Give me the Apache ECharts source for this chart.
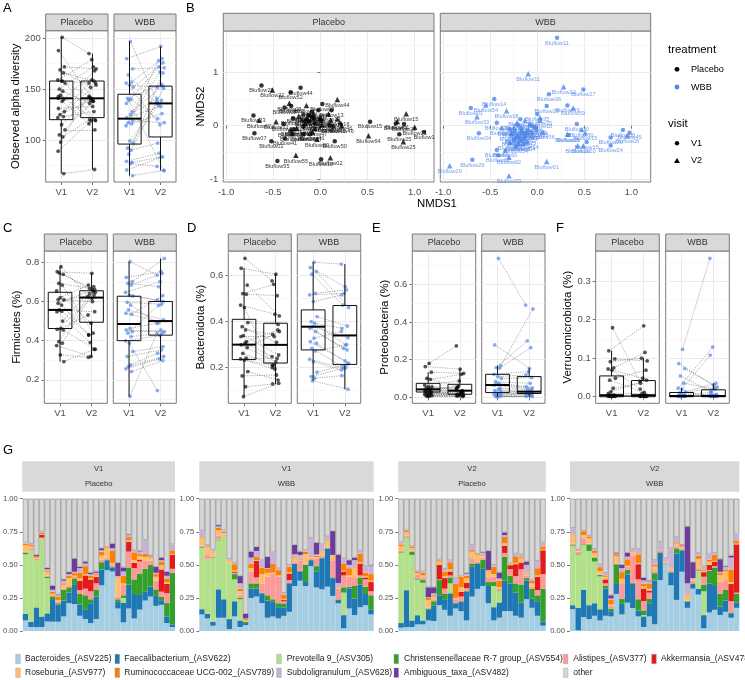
<!DOCTYPE html>
<html><head><meta charset="utf-8">
<style>html,body{margin:0;padding:0;background:#fff}#c{width:745px;height:680px}</style>
<script src="https://cdn.jsdelivr.net/npm/echarts@6/dist/echarts.min.js"></script>
</head><body><div id="c"></div>
<script>
// ---------- paired per-subject values (V1 index i pairs with V2 index i)
const alphaPlaceboV1=[201,188,172,169,166,159,158,156,150,148,144,141,140,138,131,128,125,123,122,115,110,105,103,98,89,67,158,143];
const alphaPlaceboV2=[185,140,170,152,158,179,143,120,172,136,119,141,168,116,133,154,139,128,159,142,110,138,120,156,119,71,156,138];
const alphaWbbV1=[197,180,170,164,157,156,154,152,141,140,139,136,128,125,122,119,117,116,114,99,97,92,90,86,79,78,77,70.5,65];
const alphaWbbV2=[138,192,171,134,180,115,152,176,155,121,70,172,153,141,133,117,178,126,167,136,166,139,97,151,87,83.5,74,83,70];
const firmPlaceboV1=[.778,.752,.739,.693,.684,.654,.62,.608,.591,.582,.557,.548,.5,.463,.458,.455,.395,.387,.375,.327,.293,.61,.55,.745];
const firmPlaceboV2=[.625,.744,.647,.667,.438,.489,.684,.633,.659,.429,.548,.39,.676,.531,.616,.356,.64,.65,.319,.315,.356,.6,.43,.66];
const firmWbbV1=[.803,.723,.701,.693,.684,.647,.633,.628,.596,.582,.557,.54,.535,.463,.455,.446,.438,.421,.399,.387,.344,.319,.276,.268,.256,.242,.115];
const firmWbbV2=[.735,.752,.82,.676,.744,.701,.608,.6,.586,.489,.506,.497,.63,.49,.455,.446,.58,.438,.426,.145,.37,.353,.336,.319,.307,.298,.44];
const bactPlaceboV1=[.675,.632,.559,.522,.519,.472,.461,.396,.378,.364,.339,.335,.313,.306,.299,.287,.262,.241,.238,.233,.183,.164,.117,.074];
const bactPlaceboV2=[.577,.606,.425,.562,.513,.432,.2,.388,.31,.345,.255,.335,.364,.248,.226,.357,.212,.24,.194,.21,.146,.168,.129,.132];
const bactWbbV1=[.658,.635,.617,.606,.523,.516,.487,.422,.4,.393,.378,.371,.357,.328,.313,.306,.284,.272,.236,.226,.18,.161,.154,.143];
const bactWbbV2=[.65,.552,.461,.472,.538,.523,.516,.381,.299,.371,.33,.284,.277,.357,.229,.219,.204,.3,.197,.19,.215,.2,.165,.106];
const protPlaceboV1=[.18,.163,.133,.1,.095,.065,.057,.055,.05,.045,.04,.035,.032,.03,.028,.025,.022,.02,.015,.012,.01,.008,.006,.005];
const protPlaceboV2=[.273,.15,.127,.057,.122,.087,.048,.035,.03,.05,.025,.06,.02,.04,.018,.012,.016,.03,.009,.014,.008,.02,.006,.004];
const protWbbV1=[.738,.278,.168,.158,.155,.122,.11,.1,.083,.074,.07,.065,.048,.042,.035,.03,.025,.02,.015,.012,.008,.006,.004,.003];
const protWbbV2=[.49,.154,.469,.3,.264,.136,.119,.105,.074,.057,.05,.045,.04,.03,.028,.025,.022,.02,.018,.015,.012,.008,.005,.004];
const verrPlaceboV1=[.179,.119,.098,.091,.075,.072,.069,.048,.043,.022,.013,.009,.004,.003,.003,.002,.002,.002,.001,.001,.001,.001,.001,.001];
const verrPlaceboV2=[.04,.184,.093,.1,.115,.048,.02,.069,.011,.035,.043,.009,.004,.003,.003,.003,.002,.002,.002,.001,.001,.001,.001,.001];
const verrWbbV1=[.123,.086,.073,.054,.035,.022,.02,.013,.01,.006,.004,.003,.003,.002,.002,.002,.001,.001,.001,.001,.001,.001,.001,.001];
const verrWbbV2=[.359,.03,.025,.013,.02,.129,.108,.035,.022,.011,.006,.005,.004,.003,.003,.002,.002,.002,.002,.001,.001,.001,.001,.001];
const visitJitter=[.03,-.09,.1,-.04,.07,-.11,.01,.12,-.06,.05,-.02,-.1,.08];
// ---------- box statistics [lower whisker,q1,median,q3,upper whisker]
const alphaBoxes={pV1:[67,120,141,158,201],pV2:[71,122,141,158,185],wV1:[65,96,121,145,197],wV2:[70,103,136,153,192]};
const firmBoxes={pV1:[.293,.462,.557,.647,.778],pV2:[.315,.494,.62,.655,.744],wV1:[.115,.4,.485,.627,.803],wV2:[.298,.428,.5,.6,.82]};
const bactBoxes={pV1:[.074,.235,.3,.41,.632],pV2:[.129,.22,.299,.393,.606],wV1:[.143,.277,.378,.451,.658],wV2:[.106,.214,.34,.47,.65]};
const protBoxes={pV1:[.005,.028,.042,.074,.133],pV2:[.004,.016,.035,.069,.15],wV1:[.003,.025,.065,.122,.168],wV2:[.004,.02,.03,.11,.154]};
const verrBoxes={pV1:[0,0,.004,.054,.119],pV2:[0,0,.004,.042,.1],wV1:[0,0,.002,.011,.022],wV2:[0,0,.002,.018,.035]};
// ---------- NMDS ordination [NMDS1,NMDS2,sample]
const nmdsPlaceboV1=[[-.625,.756,'Bluflow22'],[-.21,.71,'Bluflow44'],[-.315,.625,'Bluflow52'],[.02,.405,'Bluflow03'],[-.71,.19,'Bluflow33'],[-.70,-.144,'Bluflow07'],[-.52,-.29,'Bluflow02'],[-.456,-.66,'Bluflow55'],[.007,-.63,'Bluflow10'],[.152,-.29,'Bluflow50'],[.527,.075,'Bluflow15'],[.80,.04,'Bluflow61'],[.887,.03,'Bluflow21'],[.837,-.16,'Bluflow25'],[1.10,-.12,'Bluflow1'],[-.38,.34,'Bluflow08'],[-.31,.37,'Bluflow09'],[-.29,.14,'Bluflow12'],[-.18,.21,'Bluflow16'],[-.13,.2,'Bluflow17'],[-.085,.17,'Bluflow19'],[.007,.09,'Bluflow23'],[-.29,-.07,'Bluflow24'],[-.18,-.16,'Bluflow26'],[-.375,-.24,'Bluflow41'],[-.13,.075,'Bluflow31'],[-.07,.14,'Bluflow37'],[.117,.29,'Bluflow13'],[.21,.04,'Bluflow46'],[-.057,.04,'Bluflow38'],[-.39,.03,'Bluflow39'],[-.18,-.02,'Bluflow40'],[-.02,.29,'Bluflow42'],[-.09,.26,'Bluflow43'],[.1,.01,'Bluflow47'],[-.3,-.16,'Bluflow49']];
const nmdsPlaceboV2=[[-.51,.67,'Bluflow22'],[-.33,.42,'Bluflow08'],[-.148,.38,'Bluflow17'],[.18,.49,'Bluflow44'],[-.65,.10,'Bluflow07'],[-.47,.075,'Bluflow33'],[-.26,-.556,'Bluflow55'],[.106,-.6,'Bluflow02'],[-.035,-.256,'Bluflow50'],[.51,-.19,'Bluflow64'],[.816,.08,'Bluflow61'],[.91,.225,'Bluflow15'],[1.0,-.03,'Bluflow21'],[.88,-.30,'Bluflow25'],[-.23,.18,'Bluflow09'],[.085,.22,'Bluflow13'],[.18,.125,'Bluflow16'],[.11,.106,'Bluflow19'],[-.11,-.144,'Bluflow37'],[-.085,-.125,'Bluflow41'],[.226,0,'Bluflow46'],[-.25,-.05,'Bluflow24'],[-.16,.044,'Bluflow31'],[0,.156,'Bluflow38'],[-.074,.23,'Bluflow39'],[.138,-.006,'Bluflow48'],[.014,.012,'Bluflow42'],[-.145,.14,'Bluflow43'],[-.057,-.05,'Bluflow47'],[-.11,.2,'Bluflow49'],[-.32,-.08,'Bluflow12']];
const nmdsWbbV1=[[.21,1.65,'Bluflow11'],[.49,.68,'Bluflow27'],[.124,.59,'Bluflow36'],[-.457,.5,'Bluflow14'],[-.706,.33,'Bluflow01'],[.1,.37,'Bluflow28'],[.32,.38,'Bluflow59'],[0,.22,'Bluflow35'],[-.18,.12,'Bluflow56'],[-.43,.056,'Bluflow32'],[-.62,-.14,'Bluflow34'],[.42,.03,'Bluflow30'],[.91,-.08,'Bluflow08'],[.98,-.13,'Bluflow45'],[.78,-.22,'Bluflow20'],[.78,-.37,'Bluflow24'],[-.69,-.64,'Bluflow29'],[-.43,-.456,'Bluflow60'],[-.415,-.556,'Bluflow62'],[.525,-.306,'Bluflow15'],[.33,-.175,'Bluflow26'],[-.24,-.11,'Bluflow03'],[-.21,-.2,'Bluflow04'],[-.167,-.05,'Bluflow05'],[-.113,-.144,'Bluflow10'],[-.078,.012,'Bluflow18'],[-.043,-.02,'Bluflow19'],[-.007,-.08,'Bluflow36'],[-.184,-.27,'Bluflow40'],[-.227,-.39,'Bluflow54'],[-.29,-.06,'Bluflow16'],[-.13,-.2,'Bluflow17'],[-.25,-.26,'Bluflow23'],[-.2,.01,'Bluflow25'],[-.1,-.09,'Bluflow31'],[-.16,-.14,'Bluflow39']];
const nmdsWbbV2=[[-.096,.975,'Bluflow11'],[.28,.73,'Bluflow32'],[-.546,.39,'Bluflow54'],[-.326,.28,'Bluflow28'],[-.64,.17,'Bluflow33'],[.38,.33,'Bluflow59'],[.03,.156,'Bluflow35'],[-.13,.1,'Bluflow56'],[-.216,.056,'Bluflow37'],[-.376,-.04,'Bluflow38'],[.47,-.07,'Bluflow30'],[.51,-.13,'Bluflow15'],[.32,-.16,'Bluflow26'],[.957,-.19,'Bluflow06'],[.43,-.375,'Bluflow20'],[.49,-.375,'Bluflow20'],[.1,-.67,'Bluflow01'],[-.93,-.75,'Bluflow29'],[-.3,-.94,'Bluflow09'],[-.3,-.59,'Bluflow62'],[-.34,-.456,'Bluflow60'],[-.29,-.31,'Bluflow42'],[-.113,-.3,'Bluflow54'],[-.273,-.144,'Bluflow03'],[-.15,-.33,'Bluflow04'],[-.2,-.33,'Bluflow05'],[-.06,-.11,'Bluflow10'],[.057,-.12,'Bluflow36'],[.03,.1,'Bluflow18'],[-.22,-.2,'Bluflow40'],[-.17,-.09,'Bluflow16'],[-.25,-.04,'Bluflow17'],[-.14,-.23,'Bluflow25'],[-.02,-.03,'Bluflow39']];
// ---------- stacked composition: each row is one sample, columns follow taxa
const taxa=['Bacteroides_(ASV225)','Faecalibacterium_(ASV622)','Prevotella 9_(ASV305)','Christensenellaceae R-7 group_(ASV554)','Alistipes_(ASV377)','Akkermansia_(ASV478)','Roseburia_(ASV977)','Ruminococcaceae UCG-002_(ASV789)','Subdoligranulum_(ASV628)','Ambiguous_taxa_(ASV482)','other'];
const taxaColors=['#A6CEE3','#1F78B4','#B2DF8A','#33A02C','#FB9A99','#E31A1C','#FDBF6F','#FF7F00','#CAB2D6','#6A3D9A','#D6D6D6'];
const compV1Placebo=[[8,5,45,1,1,0,5,1,1,0,33],[3,4,54,0,1,0,2,1,1,0,34],[3,15,36,0,1,0,1,1,0,1,43],[3,8,59,0,1,2,.5,1,1,0,25],[7.5,6.5,28,1,1,0,3,1,1,1,55],[7,17,0,2,1,0,1,1.5,1.5,3,65.5],[7,13,0,1,1,0,1.5,2.5,1,.5,72.5],[11,12,0,8,1,0,3,1,2,1,61],[21,8,0,4,1,0,6,2,1,1.5,55.5],[20.5,14.5,0,5,1,0,1,2,1,10,45.5],[11.5,8.5,0,8,3,7,2,4,3.5,1,51.5],[9,7,0,11,5,10,1,6,2,1.5,47.5],[6,15,0,3,6,9,1,2,1,1,56],[9,17,0,5,5,5,1,1,1,1,55],[34.5,12,0,5.5,2,0,3,3,1,1.5,37.5],[46,7.5,0,.5,1.5,0,7.5,.5,0,0,36.5],[45,3,0,.5,1.5,0,1.5,9,2,3.5,34],[17,5,0,2,2,0,14,.5,1,10,48.5],[6.5,15,3.5,2,7,0,2,6,3,3,52],[17,18,0,13,12,7.5,1,2.5,1.5,.5,27],[9.5,18.5,0,11,8.5,4,2,6,1.5,0,39],[16,11,0,16,9,1.5,2.5,1.5,2,.5,39],[23,7,0,17,6,0,3,2.5,10.5,0,31],[26,7.5,0,16.5,3,0,2.5,.5,.5,.5,43],[19,7.5,0,5,6.5,0,3,2,1,4.5,51.5],[20,3.5,0,2.5,4,17,3,3,1,2,45],[6,5,0,10,7.5,7,1,3,2,3,55],[3,2,0,39,3,10.5,.5,3,4.5,0,34.5]];
const compV1Wbb=[[12.5,4,46.5,.5,1,0,6,.5,5,0,24],[9.5,3.5,41,0,3.5,0,6,.5,1,0,35],[4,3,48.5,.5,.5,0,3,.5,1.5,0,38.5],[10,21.5,37,.5,3,0,4,2,1,1,20],[10,14,48,0,1,0,1,1,1,0,24],[1.5,7.5,42,0,.5,0,2,.5,.5,0,45.5],[11,11.5,16.5,4,1,1,1,4.5,1,0,48.5],[3,5,16,1,2,0,3,2,4,5.5,58.5],[4.5,1.5,0,1,0,0,1,1,.5,3.5,87],[25,7,0,4,9,0,2.5,3.5,4.5,4.5,40],[26,6,0,4,4.5,12.5,.5,2.5,4.5,3,36.5],[21,7.5,0,.5,7,0,7,5,5.5,0,46.5],[10,13,0,4,14,0,3,3,.5,8.5,44],[11,11,0,2,19.5,0,.5,7,8.5,0,40.5],[9.5,8.5,0,3,20,0,1,4,1.5,0,52.5],[11.5,6.5,0,3,1.5,1,1,3,1.5,0,71.5],[14.5,21.5,0,.5,2,5,1,4,1.5,0,50],[34,17,0,0,1,0,3.5,.5,2,7,35],[38,7,0,.5,8,0,.5,.5,3,2.5,40],[34,3,0,13,1,0,7,2,1,0,39],[49,4.5,0,.5,1.5,0,.5,.5,14,0,29.5],[33.5,12.5,0,4,6,0,1,1,1,9,34],[31.5,23.5,0,.5,1.5,0,3.5,.5,4.5,0,34.5],[33.5,29,0,0,.5,0,5,.5,3,0,28.5],[26.5,13.5,0,.5,13,0,3,.5,.5,18,24.5],[21,2.5,0,.5,8,0,.5,.5,3.5,21.5,42.5],[2,10,17,4,9,3,.5,5.5,4,0,45],[17,15,0,1.5,7.5,0,1,5.5,2.5,3.5,46.5],[12,12.5,0,9.5,6,0,8,.5,5,2,44.5],[18,17,0,5.5,1.5,9,1,6.5,2,0,39.5],[19.5,8.5,0,5.5,5.5,1.5,1,2.5,5,0,51],[12.5,3.5,0,11,3,7,1,5,6,.5,50.5]];
const compV2Placebo=[[2.5,3.5,53,.5,1.5,0,3,1.5,1.5,0,33],[3,28,39.5,.5,1.5,0,2.5,1,.5,0,24],[3,5,49.5,2.5,1,0,1.5,1,.5,0,36],[5,7,27,.5,3.5,0,1,1,.5,0,55],[5,3,28.5,2,1.5,0,2,2,1,0,55],[8,8,0,1,.5,0,6,1.5,.5,7.5,67],[7.5,11.5,0,3.5,1.5,0,2,1,1.5,4.5,67],[19.5,7.5,0,11.5,.5,11,2.5,1,.5,0,46],[16,7.5,0,4.5,4,8,1.5,3.5,2,0,53],[11.5,17,7.5,4.5,1.5,3,1.5,5.5,1.5,0,46.5],[17,4,0,0,3,0,1,10.5,4.5,0,60],[15,7,0,.5,3.5,3.5,3.5,8,.5,0,58.5],[8,22,0,.5,2,4,3.5,2,1.5,.5,56.5],[26,22.5,0,2.5,4,0,5,1.5,3.5,0,35],[32,19,0,.5,1,0,5.5,.5,0,0,42],[34,13,0,7,1.5,0,1.5,.5,1.5,.5,40.5],[21,13,0,3,3,0,5,.5,.5,14.5,39.5],[8,10,16,3,4,0,2,5.5,1.5,0,50],[10,11.5,8.5,.5,1.5,0,1,5,1.5,4.5,55.5],[15,23,0,18,3,5.5,2,4.5,1.5,2,25.5],[15,21,0,6,5,3,.5,.5,.5,0,49],[11.5,17.5,0,7,5.5,9,1,5,2,0,41.5],[10,11.5,0,13.5,11.5,5,3,1,2,0,42],[24,14,0,2,2,0,1.5,.5,6,2.5,47.5],[17.5,7,0,7.5,1.5,0,2.5,2,.5,0,61.5],[11.5,11,0,4.5,4,10,1,5.5,5.5,0,47],[4,3,0,25,11,18,.5,2.5,3,0,33]];
const compV2Wbb=[[16.5,3,45,.5,1,0,6.5,.5,5,0,22],[.5,17,40,.5,2,0,.5,.5,.5,0,38.5],[10.5,20.5,34,.5,4.5,0,2.5,3,.5,0,24],[9,10.5,41,5,.5,0,4,1.5,.5,0,28],[11.5,9.5,31.5,3,.5,0,3,1.5,1.5,0,38],[8,8.5,25,1,.5,0,2.5,3,2,0,50],[11.5,20.5,0,2,2,3,2,1,2,0,56],[11,4,0,2,2,0,1,3.5,1,2.5,73],[28,7.5,0,15,.5,0,5.5,1.5,.5,.5,41],[12.5,8,0,4,11,0,4,5,3,2.5,50],[21.5,21.5,0,3.5,2.5,0,.5,5,2,3,41],[17.5,18.5,0,.5,21,0,2.5,.5,2,0,38],[11,4.5,0,8.5,15,11.5,1,6.5,4,0,38],[3,8,1,3.5,7,9.5,1.5,2,2.5,2,59.5],[11,10,0,3.5,4.5,1.5,1.5,4,1.5,.5,62],[5,33,0,5.5,1.5,0,3.5,1.5,3.5,0,46],[38.5,20.5,0,.5,1,0,.5,.5,6,0,32.5],[50.5,0,0,.5,.5,0,.5,.5,2.5,0,45],[34.5,9.5,0,.5,1.5,0,1.5,.5,14.5,0,37.5],[23.5,35,0,4,1.5,0,2,1,4,0,29],[45,16,0,.5,1,0,1.5,.5,.5,.5,35],[17.5,4.5,0,.5,.5,0,4.5,.5,8,43,21],[32,3.5,0,.5,2,0,.5,.5,1,12,48],[27.5,4.5,13.5,.5,1.5,0,7,2.5,2,0,41],[2,10,18,5,6,3.5,1,1,2.5,0,51],[14,22,0,9.5,.5,4,2.5,1.5,4,0,42],[16,18,0,14,1,3.5,.5,4.5,1.5,0,41],[12,6.5,0,9.5,9,0,5,1.5,1,9.5,45.5],[14.5,8.5,0,8,7.5,0,6.5,1.5,2,.5,51],[10,3,0,1,8.5,13,1.5,9.5,9,1.5,43],[17.5,4,0,6.5,1,36.5,.5,2,5,0,27]];

// ---------- layout and styling
const FONT='"Liberation Sans",Arial,sans-serif';
const TICK='#4d4d4d',GRID='#ebebeb',GRIDMINOR='#f2f2f2',BORDER='#7a7a7a',STRIP='#d9d9d9',BLUE='#4f86ea';
const grids=[],xAxes=[],yAxes=[],series=[],gfx=[];
function txt(x,y,text,size,o={}){gfx.push({type:'text',x,y,rotation:o.rot||0,z:20,silent:true,style:{text,x:0,y:0,fill:o.color||'#1a1a1a',font:`${size}px ${FONT}`,textAlign:o.align||'left',textVerticalAlign:'middle'}});}
function strip(x,y,w,h,lines,size,stroke){
  gfx.push({type:'rect',z:10,silent:true,shape:{x,y,width:w,height:h},style:{fill:STRIP,stroke:stroke?BORDER:null,lineWidth:1}});
  lines.forEach((t,i)=>txt(x+w/2,y+h*(i+.5)/lines.length,t,size,{align:'center',color:'#333'}));
}
function addGrid(box,xMin,xMax,yMin,yMax,o){
  const gi=grids.length;
  grids.push({left:box.x,top:box.y,width:box.w,height:box.h,show:true,backgroundColor:'#fff',borderColor:BORDER,borderWidth:1,containLabel:false});
  const label={color:TICK,fontSize:o.tickSize||9.5,fontFamily:FONT,margin:5,hideOverlap:false};
  const tick={show:true,length:3,lineStyle:{color:'#555',width:.8}};
  const mk=(min,max,vals,fmt)=>({type:'value',gridIndex:gi,min,max,
    axisLine:{show:false},
    axisTick:Object.assign({},tick,{customValues:vals}),
    axisLabel:Object.assign({},label,{customValues:vals,formatter:fmt,showMinLabel:true,showMaxLabel:true}),
    splitLine:{show:true,lineStyle:{color:GRID,width:1}},minorSplitLine:{show:false}});
  const xi=xAxes.length;
  xAxes.push(mk(xMin,xMax,o.xTicks,o.xFmt));
  const yi=yAxes.length;
  const yA=mk(yMin,yMax,o.yTicks,o.yFmt);
  if(o.yName)Object.assign(yA,{name:o.yName,nameLocation:'middle',nameGap:o.yGap,nameTextStyle:{fontSize:11.4,color:'#000',fontFamily:FONT}});
  yAxes.push(yA);
  const minorAxis=(min,max,vals)=>({type:'value',gridIndex:gi,min,max,axisLine:{show:false},
    axisTick:{show:false,customValues:vals},axisLabel:{show:false,customValues:vals},
    splitLine:{show:true,lineStyle:{color:GRIDMINOR,width:.6}}});
  if(o.xMinor)xAxes.push(minorAxis(xMin,xMax,o.xMinor));
  if(o.yMinor)yAxes.push(minorAxis(yMin,yMax,o.yMinor));
  return {xi,yi};
}
function renderBox(params,api){
  const x=api.value(0),lo=api.value(1),q1=api.value(2),m=api.value(3),q3=api.value(4),hi=api.value(5);
  const w=api.size([.75,0])[0]/2,c=api.coord([x,m]);
  const pLo=api.coord([x,lo])[1],pQ1=api.coord([x,q1])[1],pQ3=api.coord([x,q3])[1],pHi=api.coord([x,hi])[1];
  const s={stroke:'#111',lineWidth:1,fill:null};
  return {type:'group',children:[
    {type:'line',shape:{x1:c[0],y1:pHi,x2:c[0],y2:pQ3},style:s},
    {type:'line',shape:{x1:c[0],y1:pQ1,x2:c[0],y2:pLo},style:s},
    {type:'rect',shape:{x:c[0]-w,y:pQ3,width:2*w,height:pQ1-pQ3},style:s},
    {type:'line',shape:{x1:c[0]-w,y1:c[1],x2:c[0]+w,y2:c[1]},style:{stroke:'#000',lineWidth:2}}
  ]};
}
function addBoxFacet(box,yRange,yTicks,yMinor,fmt,color,v1,v2,bV1,bV2,yName,yGap){
  const a=addGrid(box,.5,2.5,yRange[0],yRange[1],{xTicks:[1,2],xFmt:v=>'V'+v,yTicks,yFmt:fmt,yMinor,yName,yGap});
  if(!yName){yAxes[a.yi].axisTick.show=false;yAxes[a.yi].axisLabel.show=false;}
  const ax={xAxisIndex:a.xi,yAxisIndex:a.yi,silent:true,animation:false};
  const jit=i=>visitJitter[i%visitJitter.length],jit2=i=>visitJitter[(i+5)%visitJitter.length];
  series.push(Object.assign({type:'lines',coordinateSystem:'cartesian2d',z:3,
    data:v1.map((v,i)=>({coords:[[1+jit(i),v],[2+jit2(i),v2[i]]]})),
    lineStyle:{color:'#444',width:.6,type:[1.2,1.2],opacity:.75},effect:{show:false}},ax));
  series.push(Object.assign({type:'scatter',z:4,symbolSize:3.8,itemStyle:{color,opacity:.65},
    data:v1.map((v,i)=>[1+jit(i),v]).concat(v2.map((v,i)=>[2+jit2(i),v]))},ax));
  series.push(Object.assign({type:'custom',z:5,renderItem:renderBox,clip:false,encode:{x:0,y:[1,2,3,4,5]},
    data:[[1].concat(bV1),[2].concat(bV2)]},ax));
}
function boxPanel(x1,w1,x2,w2,top,bot,stripTop,range,ticks,minor,fmt,name,gap,d,b){
  const h=bot-top;
  strip(x1,stripTop,w1,top-stripTop,['Placebo'],9,true);
  strip(x2,stripTop,w2,top-stripTop,['WBB'],9,true);
  addBoxFacet({x:x1,y:top,w:w1,h},range,ticks,minor,fmt,'#000',d[0],d[1],b.pV1,b.pV2,name,gap);
  addBoxFacet({x:x2,y:top,w:w2,h},range,ticks,minor,fmt,BLUE,d[2],d[3],b.wV1,b.wV2);
}
const f0=v=>String(v),f1=v=>v.toFixed(1);
boxPanel(45.7,62.3,114,62,30.7,182,14,[58.7,207.5],[100,150,200],[75,125,175],f0,'Observed alpha diversity',20,[alphaPlaceboV1,alphaPlaceboV2,alphaWbbV1,alphaWbbV2],alphaBoxes);
boxPanel(44.3,63,113.3,63,251,403.3,234,[.08,.858],[.2,.4,.6,.8],[.1,.3,.5,.7],f1,'Firmicutes (%)',20,[firmPlaceboV1,firmPlaceboV2,firmWbbV1,firmWbbV2],firmBoxes);
boxPanel(228.3,63,297.3,63.4,251,403.3,234,[.045,.707],[.2,.4,.6],[.1,.3,.5,.7],f1,'Bacteroidota (%)',18,[bactPlaceboV1,bactPlaceboV2,bactWbbV1,bactWbbV2],bactBoxes);
boxPanel(412.3,63.4,481.7,63.3,251,403.3,234,[-.032,.777],[0,.2,.4,.6],[.1,.3,.5,.7],f1,'Proteobacteria (%)',18,[protPlaceboV1,protPlaceboV2,protWbbV1,protWbbV2],protBoxes);
boxPanel(595.7,63.6,665.7,63.6,251,403.3,234,[-.017,.378],[0,.1,.2,.3],[.05,.15,.25,.35],f1,'Verrucomicrobiota (%)',18,[verrPlaceboV1,verrPlaceboV2,verrWbbV1,verrWbbV2],verrBoxes);

// NMDS panel
function nmdsFacet(box,color,v1,v2,first){
  const xT=[-1,-.5,0,.5,1];
  const a=addGrid(box,-1.03,1.205,-1.056,1.776,{xTicks:xT,xFmt:f1,yTicks:[-1,0,1],yFmt:f0,xMinor:[-.75,-.25,.25,.75],yMinor:[-.5,.5,1.5],yName:first?'NMDS2':null,yGap:12});
  if(!first){yAxes[a.yi].axisTick.show=false;yAxes[a.yi].axisLabel.show=false;}
  const ax={xAxisIndex:a.xi,yAxisIndex:a.yi,silent:true,animation:false,z:4};
  const lab={show:true,position:'bottom',distance:0,fontSize:5.6,color,fontFamily:FONT,formatter:p=>p.value[2]};
  series.push(Object.assign({type:'scatter',symbol:'circle',symbolSize:4.5,itemStyle:{color},label:lab,data:v1},ax));
  series.push(Object.assign({type:'scatter',symbol:'triangle',symbolSize:5.5,itemStyle:{color},label:lab,data:v2},ax));
}
strip(223.3,13.3,210.7,17.7,['Placebo'],9,true);
strip(440.3,13.3,210.4,17.7,['WBB'],9,true);
nmdsFacet({x:223.3,y:31,w:210.7,h:151},'#000',nmdsPlaceboV1,nmdsPlaceboV2,true);
nmdsFacet({x:440.3,y:31,w:210.4,h:151},BLUE,nmdsWbbV1,nmdsWbbV2,false);
txt(437,204,'NMDS1',11.4,{align:'center',color:'#000'});

// B legend
txt(668,50,'treatment',11.4,{color:'#000'});
txt(691,69.3,'Placebo',9.1,{color:'#000'});
txt(691,87,'WBB',9.1,{color:'#000'});
txt(668,124,'visit',11.4,{color:'#000'});
txt(691,143.3,'V1',9.1,{color:'#000'});
txt(691,160.7,'V2',9.1,{color:'#000'});
gfx.push({type:'circle',z:20,silent:true,shape:{cx:677,cy:69.3,r:2.4},style:{fill:'#000'}});
gfx.push({type:'circle',z:20,silent:true,shape:{cx:677,cy:87,r:2.4},style:{fill:BLUE}});
gfx.push({type:'circle',z:20,silent:true,shape:{cx:677,cy:143.3,r:2.2},style:{fill:'#000'}});
gfx.push({type:'polygon',z:20,silent:true,shape:{points:[[677,158],[680,163],[674,163]]},style:{fill:'#000'}});

// panel letters
[['A',3,8],['B',186,8],['C',3,228],['D',187,228],['E',372,228],['F',556,228],['G',3,450]].forEach(l=>txt(l[1],l[2],l[0],13,{color:'#000'}));

// G stacked composition
function composition(box,rows,lines){
  strip(box.x,461.3,box.w,30.4,lines,7.6,false);
  const gi=grids.length;
  grids.push({left:box.x,top:498.7,width:box.w,height:132.3});
  xAxes.push({type:'category',gridIndex:gi,data:rows.map((r,i)=>'s'+(i+1)),axisLine:{show:false},axisTick:{show:false},axisLabel:{show:false},splitLine:{show:false}});
  const yi=yAxes.length;
  yAxes.push({type:'value',gridIndex:gi,min:0,max:1,axisLine:{show:false},splitLine:{show:false},
    axisTick:{show:true,length:3,lineStyle:{color:'#555',width:.8},customValues:[0,.25,.5,.75,1]},
    axisLabel:{customValues:[0,.25,.5,.75,1],formatter:v=>v.toFixed(2),fontSize:7.6,color:TICK,fontFamily:FONT,margin:5}});
  taxa.forEach((t,k)=>series.push({type:'bar',name:t,stack:'g'+gi,xAxisIndex:xAxes.length-1,yAxisIndex:yi,silent:true,animation:false,
    barWidth:'100%',barCategoryGap:0,itemStyle:k===10?{color:taxaColors[k],borderColor:'#8c8c8c',borderWidth:.6}:{color:taxaColors[k],borderWidth:0},
    data:rows.map(r=>{const s=r.reduce((a,b)=>a+b,0);return r[k]/s;})}));
}
composition({x:22.3,w:152.7},compV1Placebo,['V1','Placebo']);
composition({x:199.3,w:174.4},compV1Wbb,['V1','WBB']);
composition({x:398.3,w:147.4},compV2Placebo,['V2','Placebo']);
composition({x:570,w:169.3},compV2Wbb,['V2','WBB']);

// G legend
[[15.7,25,659,0],[115,124.3,659,1],[276.7,286.7,659,2],[394,404,659,3],[563.3,573.3,659,4],[651.7,661,659,5],
 [15.7,25,672.7,6],[115,124.3,672.7,7],[276.7,286.7,672.7,8],[394,404,672.7,9],[563.3,573.3,672.7,10]].forEach(e=>{
  gfx.push({type:'rect',z:20,silent:true,shape:{x:e[0],y:e[2]-4.7,width:4.6,height:9.4},style:{fill:taxaColors[e[3]],stroke:'#999',lineWidth:.4}});
  txt(e[1],e[2],taxa[e[3]],8.5,{color:'#222'});
});

const chart=echarts.init(document.getElementById('c'),null,{renderer:'canvas'});
chart.setOption({animation:false,backgroundColor:'#fff',textStyle:{fontFamily:FONT},grid:grids,xAxis:xAxes,yAxis:yAxes,series,graphic:{elements:gfx}});
</script></body></html>
